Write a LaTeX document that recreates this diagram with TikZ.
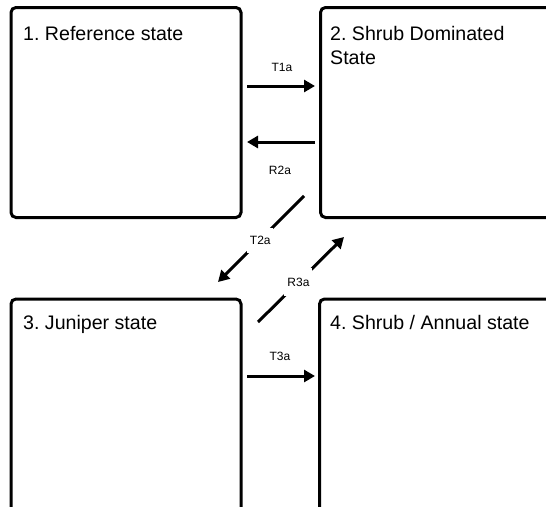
\documentclass[tikz,border=0pt]{standalone}
\usepackage{fontspec}
\setmainfont{Liberation Sans}
\usetikzlibrary{arrows.meta}
\frenchspacing

\begin{document}
\begin{tikzpicture}[x=1pt, y=-1pt,
  statebox/.style={draw=black, line width=3pt, rounded corners=5pt, fill=white,
    inner sep=0pt},
  statetitle/.style={anchor=north west, inner sep=0pt, align=left,
    font=\fontsize{19.6}{24}\selectfont},
  conn/.style={draw=black, line width=3pt,
    -{Triangle[length=11pt, width=12pt]}},
  translabel/.style={font=\fontsize{12}{14}\selectfont, inner sep=0pt},
  gaplabel/.style={translabel, fill=white, minimum width=26pt, minimum height=25pt}
]
\useasboundingbox (0,0) rectangle (546,506);
\fill[white] (0,0) rectangle (546,506);
\clip (0,0) rectangle (546,506);

% state boxes (boxes 2-4 run on past the right and lower edges)
\node[statebox, minimum width=230pt, minimum height=210pt]   (b1) at (126,112.5) {};
\node[statebox, minimum width=280pt, minimum height=210pt]   (b2) at (460.5,112.5) {};
\node[statebox, minimum width=230pt, minimum height=261pt]   (b3) at (126,429.5) {};
\node[statebox, minimum width=280pt, minimum height=261pt]   (b4) at (459.5,429.5) {};

% state titles
\node[statetitle] (t1) at (23,26.5)  {1. Reference state};
\node[statetitle] (t2) at (330,26.5) {2. Shrub Dominated\\State};
\node[statetitle] (t3) at (23,315.5) {3. Juniper state};
\node[statetitle] (t4) at (330,315.5) {4. Shrub / Annual state};

% connector end points
\coordinate (T1s) at (247,86);   \coordinate (T1e) at (315,86);
\coordinate (R2s) at (315,142);  \coordinate (R2e) at (247,142);
\coordinate (T2s) at (304,196);  \coordinate (T2e) at (218,282);
\coordinate (R3s) at (258,322);  \coordinate (R3e) at (344,237);
\coordinate (T3s) at (247,376);  \coordinate (T3e) at (315,376);

% horizontal transitions
\draw[conn] (T1s) -- (T1e);
\node[translabel] (lT1) at (282,67.5) {T1a};
\draw[conn] (R2s) -- (R2e);
\node[translabel] (lR2) at (280,170) {R2a};
\draw[conn] (T3s) -- (T3e);
\node[translabel] (lT3) at (280,356.7) {T3a};

% diagonal transitions, label sitting in a break of the line
\draw[conn] (T2s) -- node[gaplabel, pos=0.52, xshift=1pt] (lT2) {T2a} (T2e);
\draw[conn] (R3s) -- node[gaplabel, pos=0.47, minimum height=28pt, minimum width=28pt] (lR3) {R3a} (R3e);
\end{tikzpicture}
\end{document}
